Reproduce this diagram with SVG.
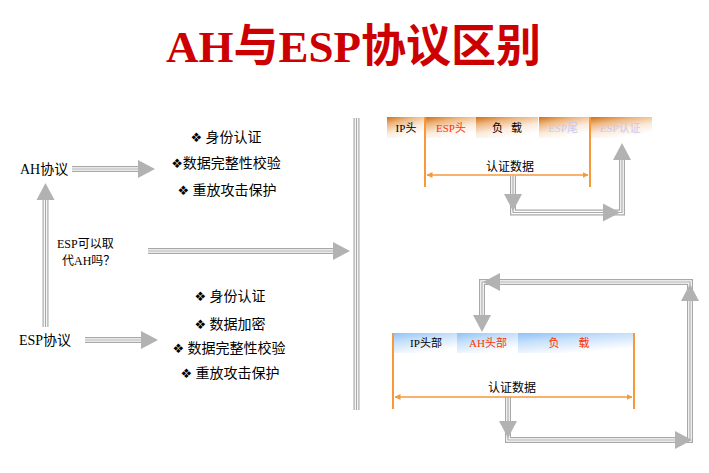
<svg xmlns="http://www.w3.org/2000/svg" xmlns:xlink="http://www.w3.org/1999/xlink" width="709" height="473" viewBox="0 0 709 473">
  <style>
    .serif { font-family: "Liberation Serif", "Noto Sans CJK SC", serif; }
    .sans { font-family: "Noto Sans CJK SC", "DejaVu Sans", sans-serif; }
    .title { font-size: 45px; font-weight: bold; fill: #CC0000; }
    .lbl { font-size: 14px; fill: #000; }
    .q { font-size: 12px; fill: #000; }
    .feat { font-size: 14px; fill: #000; text-anchor: middle; }
    .dot { font-family: "DejaVu Sans", sans-serif; font-size: 13px; }
    .cell { font-size: 11px; text-anchor: middle; white-space: pre; }
    .auth { font-size: 12px; text-anchor: middle; fill: #000; }
    .red { fill: #FF3300; }
    .pale { fill: #C8C8F2; }
    .org { stroke: #F7993A; stroke-width: 2; fill: none; }
    .orgarrow { stroke: #F7993A; stroke-width: 1.5; fill: none; marker-start: url(#oa); marker-end: url(#oa); }
    .t1 { stroke: #A8A8A8; stroke-width: 6; fill: none; }
    .t2 { stroke: #FFFFFF; stroke-width: 3.6; fill: none; }
    .t3 { stroke: #A8A8A8; stroke-width: 1.2; fill: none; }
    .head { fill: #B2B2B2; }
  </style>
  <defs>
    <linearGradient id="gOrange" x1="0" y1="0" x2="0.5" y2="1">
      <stop offset="0" stop-color="#CF6F14"/>
      <stop offset="0.3" stop-color="#EDB680"/>
      <stop offset="0.65" stop-color="#FBEBDD"/>
      <stop offset="1" stop-color="#FFFFFF"/>
    </linearGradient>
    <linearGradient id="gBlue" x1="0" y1="0" x2="0.5" y2="1">
      <stop offset="0" stop-color="#8EC2F6"/>
      <stop offset="0.4" stop-color="#C6E0FA"/>
      <stop offset="1" stop-color="#FFFFFF"/>
    </linearGradient>
    <marker id="oa" viewBox="0 0 6 6" refX="5.5" refY="3" markerWidth="6" markerHeight="6" markerUnits="userSpaceOnUse" orient="auto-start-reverse">
      <path d="M0,0 L6,3 L0,6 Z" fill="#F7993A"/>
    </marker>
    <!-- arrowhead pointing right, tip at origin -->
    <path id="hd" d="M0,0 L-17,-9 L-17,9 Z"/>
    <!-- triple-line connector routes -->
    <path id="sep" d="M356.5,118 V410"/>
    <path id="c1" d="M72,169 H139"/>
    <path id="c2" d="M45.5,327 V199"/>
    <path id="c3" d="M148,251 H334"/>
    <path id="c4" d="M85,340 H142"/>
    <path id="c5" d="M513,176 V212.5 H622 V160"/>
    <path id="c6" d="M508,397 V440 H690 V282 H482 V316"/>
  </defs>

  <g id="title">
    <text class="serif title" x="166" y="62">AH与ESP协议区别</text>
  </g>

  <g id="connectors">
    <g id="lines">
      <use xlink:href="#sep" class="t1"/><use xlink:href="#sep" class="t2"/><use xlink:href="#sep" class="t3"/>
      <use xlink:href="#c1" class="t1"/><use xlink:href="#c1" class="t2"/><use xlink:href="#c1" class="t3"/>
      <use xlink:href="#c2" class="t1"/><use xlink:href="#c2" class="t2"/><use xlink:href="#c2" class="t3"/>
      <use xlink:href="#c3" class="t1"/><use xlink:href="#c3" class="t2"/><use xlink:href="#c3" class="t3"/>
      <use xlink:href="#c4" class="t1"/><use xlink:href="#c4" class="t2"/><use xlink:href="#c4" class="t3"/>
      <use xlink:href="#c5" class="t1"/><use xlink:href="#c5" class="t2"/><use xlink:href="#c5" class="t3"/>
      <use xlink:href="#c6" class="t1"/><use xlink:href="#c6" class="t2"/><use xlink:href="#c6" class="t3"/>
    </g>
    <g id="heads" class="head">
      <use xlink:href="#hd" transform="translate(155,169)"/>
      <use xlink:href="#hd" transform="translate(45.5,183) rotate(-90)"/>
      <use xlink:href="#hd" transform="translate(350,251)"/>
      <use xlink:href="#hd" transform="translate(158,340)"/>
      <use xlink:href="#hd" transform="translate(513,211) rotate(90)"/>
      <use xlink:href="#hd" transform="translate(620,212.5)"/>
      <use xlink:href="#hd" transform="translate(622,143) rotate(-90)"/>
      <use xlink:href="#hd" transform="translate(508,438) rotate(90)"/>
      <use xlink:href="#hd" transform="translate(692,440)"/>
      <use xlink:href="#hd" transform="translate(690,284) rotate(-90)"/>
      <use xlink:href="#hd" transform="translate(483,282) rotate(180)"/>
      <use xlink:href="#hd" transform="translate(482,332) rotate(90)"/>
    </g>
  </g>

  <g id="ah-label">
    <text class="serif lbl" x="20" y="174">AH协议</text>
  </g>

  <g id="ah-features" class="sans">
    <text class="feat" x="226" y="142"><tspan class="dot">❖</tspan> 身份认证</text>
    <text class="feat" x="226" y="168"><tspan class="dot">❖</tspan>数据完整性校验</text>
    <text class="feat" x="227" y="195"><tspan class="dot">❖</tspan> 重放攻击保护</text>
  </g>

  <g id="question">
    <text class="serif q" x="57" y="248">ESP可以取</text>
    <text class="serif q" x="62" y="265">代AH吗？</text>
  </g>

  <g id="esp-label">
    <text class="serif lbl" x="19" y="345">ESP协议</text>
  </g>

  <g id="esp-features" class="sans">
    <text class="feat" x="230" y="301"><tspan class="dot">❖</tspan> 身份认证</text>
    <text class="feat" x="230" y="329"><tspan class="dot">❖</tspan> 数据加密</text>
    <text class="feat" x="229" y="353"><tspan class="dot">❖</tspan> 数据完整性校验</text>
    <text class="feat" x="230" y="378"><tspan class="dot">❖</tspan> 重放攻击保护</text>
  </g>

  <g id="esp-packet">
    <rect x="387" y="117" width="37" height="21" fill="url(#gOrange)"/>
    <rect x="426" y="117" width="50" height="21" fill="url(#gOrange)"/>
    <rect x="476" y="117" width="62" height="21" fill="url(#gOrange)"/>
    <rect x="539" y="117" width="50" height="21" fill="url(#gOrange)"/>
    <rect x="591" y="117" width="61" height="21" fill="url(#gOrange)"/>
    <text class="serif cell" x="406" y="132">IP头</text>
    <text class="serif cell red" x="451" y="132">ESP头</text>
    <text class="serif cell" x="507" y="132">负   载</text>
    <text class="serif cell pale" x="563" y="132">ESP尾</text>
    <text class="serif cell pale" x="620" y="132">ESP认证</text>
    <line class="org" x1="425" y1="117" x2="425" y2="187"/>
    <line class="org" x1="590" y1="117" x2="590" y2="187"/>
    <line class="orgarrow" x1="427" y1="175" x2="588" y2="175"/>
    <text class="sans auth" x="510" y="171">认证数据</text>
  </g>

  <g id="ah-packet">
    <rect x="393" y="333" width="64" height="20" fill="url(#gBlue)"/>
    <rect x="457" y="333" width="61" height="20" fill="url(#gBlue)"/>
    <rect x="518" y="333" width="116" height="20" fill="url(#gBlue)"/>
    <text class="serif cell" x="426" y="347">IP头部</text>
    <text class="serif cell red" x="488" y="347">AH头部</text>
    <text class="serif cell red" x="569" y="347">负       载</text>
    <line class="org" x1="393" y1="333" x2="393" y2="409"/>
    <line class="org" x1="634" y1="333" x2="634" y2="409"/>
    <line class="orgarrow" x1="395" y1="397" x2="632" y2="397"/>
    <text class="sans auth" x="512" y="392">认证数据</text>
  </g>
</svg>
